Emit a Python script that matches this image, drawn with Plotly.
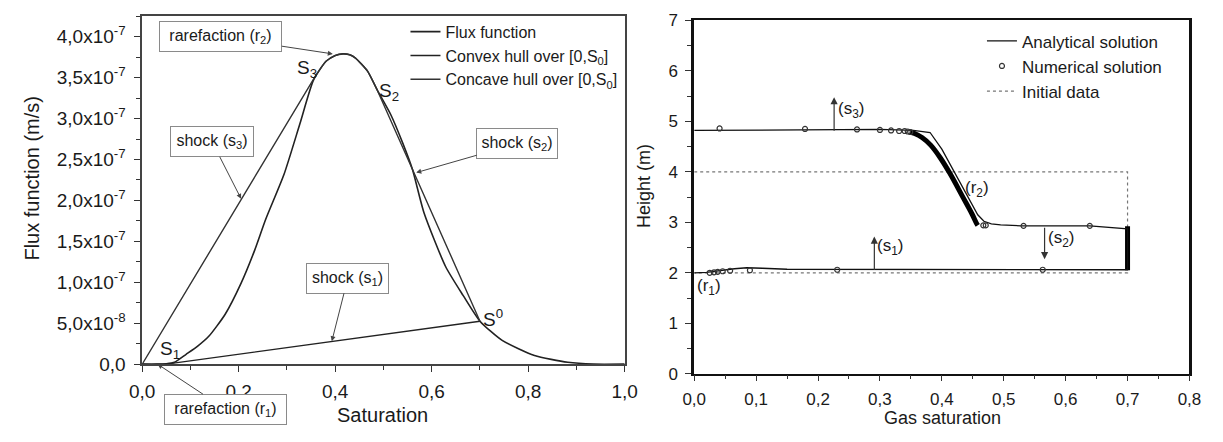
import plotly.graph_objects as go

# ---------------- Left panel data: flux function ----------------
flux_s = [0.0, 0.03, 0.05, 0.067, 0.091, 0.115, 0.138, 0.172, 0.205, 0.233, 0.256, 0.294, 0.327,
          0.355, 0.381, 0.400, 0.416, 0.430, 0.442, 0.467, 0.487, 0.515, 0.540, 0.560, 0.584,
          0.629, 0.665, 0.700, 0.746, 0.813, 0.882, 0.935, 1.0]
flux_f = [0.0, 0.0, 0.5e-9, 2.3e-9, 1.2e-8, 2.2e-8, 3.4e-8, 6.1e-8, 9.9e-8, 1.39e-7, 1.77e-7, 2.32e-7, 2.94e-7,
          3.47e-7, 3.70e-7, 3.77e-7, 3.79e-7, 3.78e-7, 3.74e-7, 3.58e-7, 3.35e-7, 3.05e-7, 2.70e-7, 2.38e-7, 1.85e-7,
          1.19e-7, 8.4e-8, 5.25e-8, 2.9e-8, 1.05e-8, 2.3e-9, 0.0, 0.0]

convex_s = [0.0, 0.05, 0.70]
convex_f = [0.0, 0.0, 5.25e-8]

concave_s = [0.0, 0.357, 0.381, 0.400, 0.416, 0.430, 0.442, 0.467, 0.487, 0.70]
concave_f = [0.0, 3.50e-7, 3.70e-7, 3.77e-7, 3.79e-7, 3.78e-7, 3.74e-7, 3.58e-7, 3.35e-7, 5.25e-8]

left_xticks = [0.0, 0.2, 0.4, 0.6, 0.8, 1.0]
left_xticktext = ["0,0", "0,2", "0,4", "0,6", "0,8", "1,0"]
left_yticks = [0.0, 5e-8, 1e-7, 1.5e-7, 2e-7, 2.5e-7, 3e-7, 3.5e-7, 4e-7]
left_yticktext = ["0,0", "5,0x10<sup>-8</sup>", "1,0x10<sup>-7</sup>", "1,5x10<sup>-7</sup>",
                  "2,0x10<sup>-7</sup>", "2,5x10<sup>-7</sup>", "3,0x10<sup>-7</sup>",
                  "3,5x10<sup>-7</sup>", "4,0x10<sup>-7</sup>"]

# ---------------- Right panel data: height profiles ----------------
ana_s = [0.0, 0.179, 0.30, 0.354, 0.381, 0.400, 0.421, 0.441, 0.458, 0.468, 0.480, 0.495, 0.528, 0.639, 0.70,
         0.70, 0.50, 0.233, 0.15, 0.11, 0.085, 0.065, 0.04, 0.02, 0.0]
ana_h = [4.82, 4.84, 4.84, 4.82, 4.78, 4.45, 3.97, 3.52, 3.15, 3.02, 2.97, 2.95, 2.93, 2.93, 2.87,
         2.06, 2.06, 2.06, 2.07, 2.09, 2.10, 2.08, 2.04, 2.01, 2.00]

num_s = [0.041, 0.179, 0.263, 0.300, 0.318, 0.331, 0.340, 0.345, 0.349,
         0.467, 0.471, 0.532, 0.639,
         0.563, 0.231, 0.090, 0.058, 0.046, 0.038, 0.032, 0.025]
num_h = [4.86, 4.85, 4.84, 4.83, 4.82, 4.81, 4.81, 4.80, 4.79,
         2.94, 2.94, 2.93, 2.93,
         2.06, 2.06, 2.05, 2.04, 2.03, 2.02, 2.01, 2.00]

# dense clusters of numerical points (rarefaction r2 and the state S0)
dense_r2_s = [0.349, 0.356, 0.368, 0.382, 0.398, 0.413, 0.434, 0.449, 0.456, 0.458]
dense_r2_h = [4.79, 4.76, 4.68, 4.53, 4.27, 3.97, 3.50, 3.16, 2.98, 2.94]
dense_s0_s = [0.70, 0.70]
dense_s0_h = [2.05, 2.92]

init_s = [0.0, 0.70, 0.70, 0.0]
init_h = [4.0, 4.0, 2.0, 2.0]

right_xticks = [0.0, 0.1, 0.2, 0.3, 0.4, 0.5, 0.6, 0.7, 0.8]
right_xticktext = ["0,0", "0,1", "0,2", "0,3", "0,4", "0,5", "0,6", "0,7", "0,8"]
right_yticks = [0, 1, 2, 3, 4, 5, 6, 7]
right_yticktext = ["0", "1", "2", "3", "4", "5", "6", "7"]

FONT = "Liberation Sans, Arial, Helvetica, sans-serif"
INK = "#1a1a1a"
W, H = 1223, 442


def px(xr):
    return xr / W


def py(yr):
    return 1 - yr / H


fig = go.Figure()

# left traces
fig.add_trace(go.Scatter(x=flux_s, y=flux_f, mode="lines", name="Flux function",
                         line=dict(color="#222", width=1.6, shape="spline", smoothing=0.6),
                         xaxis="x", yaxis="y", legend="legend"))
fig.add_trace(go.Scatter(x=convex_s, y=convex_f, mode="lines", name="Convex hull over [0,S<sub>0</sub>]",
                         line=dict(color="#222", width=1.4),
                         xaxis="x", yaxis="y", legend="legend"))
fig.add_trace(go.Scatter(x=concave_s, y=concave_f, mode="lines", name="Concave hull over [0,S<sub>0</sub>]",
                         line=dict(color="#333", width=1.4, shape="spline", smoothing=0.3),
                         xaxis="x", yaxis="y", legend="legend"))

# right traces
fig.add_trace(go.Scatter(x=init_s, y=init_h, mode="lines", name="Initial data",
                         line=dict(color="#777", width=1.2, dash="dot"),
                         xaxis="x2", yaxis="y2", legend="legend2", legendrank=3))
fig.add_trace(go.Scatter(x=dense_r2_s, y=dense_r2_h, mode="lines", showlegend=False,
                         line=dict(color="#000", width=5, shape="spline"),
                         xaxis="x2", yaxis="y2", hoverinfo="skip"))
fig.add_trace(go.Scatter(x=dense_s0_s, y=dense_s0_h, mode="lines", showlegend=False,
                         line=dict(color="#000", width=5),
                         xaxis="x2", yaxis="y2", hoverinfo="skip"))
fig.add_trace(go.Scatter(x=ana_s, y=ana_h, mode="lines", name="Analytical solution",
                         line=dict(color="#111", width=1.3),
                         xaxis="x2", yaxis="y2", legend="legend2", legendrank=1))
fig.add_trace(go.Scatter(x=num_s, y=num_h, mode="markers", name="Numerical solution",
                         marker=dict(symbol="circle-open", size=5, color="#333", line=dict(width=1.2)),
                         xaxis="x2", yaxis="y2", legend="legend2", legendrank=2))

axis_common = dict(showgrid=False, zeroline=False, showline=True, mirror=True, ticks="outside",
                   tickcolor="#333", color=INK)

fig.update_layout(
    width=W, height=H,
    margin=dict(l=0, r=0, t=0, b=0),
    paper_bgcolor="white", plot_bgcolor="white",
    font=dict(family=FONT, color=INK, size=16),
    xaxis=dict(domain=[px(132), px(625)], range=[0, 1], anchor="y",
               tickvals=left_xticks, ticktext=left_xticktext, ticklen=6, ticklabelstandoff=3,
               linecolor="#444", linewidth=1.5, tickfont=dict(family=FONT, size=19, color=INK),
               minor=dict(dtick=0.1, ticklen=4, ticks="outside", tickcolor="#333"),
               **axis_common),
    yaxis=dict(domain=[py(372), py(7)], range=[0, 4.257e-7], anchor="x",
               tickvals=left_yticks, ticktext=left_yticktext, ticklen=6, ticklabelstandoff=5,
               linecolor="#444", linewidth=1.5, tickfont=dict(family=FONT, size=19, color=INK),
               minor=dict(dtick=2.5e-8, ticklen=4, ticks="outside", tickcolor="#333"),
               **axis_common),
    xaxis2=dict(domain=[px(696), px(1202)], range=[0, 0.8], anchor="y2",
                tickvals=right_xticks, ticktext=right_xticktext, ticklen=6, ticklabelstandoff=3,
                linecolor="#111", linewidth=1.5, tickfont=dict(family=FONT, size=17, color=INK),
                minor=dict(dtick=0.05, ticklen=4, ticks="outside", tickcolor="#333"),
                **axis_common),
    yaxis2=dict(domain=[py(382), py(12)], range=[0, 7], anchor="x2",
                tickvals=right_yticks, ticktext=right_yticktext, ticklen=6, ticklabelstandoff=4,
                linecolor="#111", linewidth=2.5, tickfont=dict(family=FONT, size=17, color=INK),
                minor=dict(dtick=0.5, ticklen=4, ticks="outside", tickcolor="#333"),
                **axis_common),
    legend=dict(x=px(401), y=py(6), xanchor="left", yanchor="top", bgcolor="rgba(0,0,0,0)",
                font=dict(size=16), itemwidth=30, tracegroupgap=0),
    legend2=dict(x=px(990), y=py(15), xanchor="left", yanchor="top", bgcolor="rgba(0,0,0,0)",
                 font=dict(size=17), itemwidth=30, tracegroupgap=0),
)

ann = []
# axis titles
ttl = dict(xref="paper", yref="paper", showarrow=False, xanchor="center", yanchor="middle")
ann.append(dict(ttl, text="Flux function (m/s)", x=px(19), y=py(178), textangle=-90, font=dict(size=20)))
ann.append(dict(ttl, text="Saturation", x=px(378), y=py(425), font=dict(size=20)))
ann.append(dict(ttl, text="Height (m)", x=px(644), y=py(185), textangle=-90, font=dict(size=18)))
ann.append(dict(ttl, text="Gas saturation", x=px(950), y=py(428), font=dict(size=18)))

# point labels on left panel
for txt, sx, fy in [("S<sub>3</sub>", 0.341, 3.61e-7), ("S<sub>2</sub>", 0.511, 3.33e-7),
                    ("S<sup>0</sup>", 0.728, 5.7e-8), ("S<sub>1</sub>", 0.057, 1.7e-8)]:
    ann.append(dict(text=txt, x=sx, y=fy, xref="x", yref="y", showarrow=False, font=dict(size=19)))

# boxed callouts on left panel (tip in data coords, box offset in px)
box = dict(bordercolor="#8a8a8a", borderwidth=1, bgcolor="white", font=dict(size=16),
           arrowcolor="#444", arrowwidth=1, arrowhead=2, arrowsize=1, height=27, showarrow=True,
           xref="x", yref="y")
for txt, sx, fy, ax, ay, w in [
        ("rarefaction (r<sub>2</sub>)", 0.395, 3.79e-7, -112, -17, 119),
        ("shock (s<sub>3</sub>)", 0.205, 2.02e-7, -29, -57, 80),
        ("shock (s<sub>2</sub>)", 0.568, 2.34e-7, 101, -29, 78),
        ("shock (s<sub>1</sub>)", 0.393, 2.8e-8, 16, -63, 79),
        ("rarefaction (r<sub>1</sub>)", 0.032, 0.0, 68, 45, 119)]:
    d = dict(box)
    d.update(text=txt, x=sx, y=fy, ax=ax, ay=ay, width=w)
    ann.append(d)

# right panel arrows
for sx, h, ay in [(0.226, 5.48, 35), (0.291, 2.72, 35), (0.566, 2.27, -33)]:
    ann.append(dict(text="", x=sx, y=h, ax=0, ay=ay, xref="x2", yref="y2", showarrow=True,
                    arrowhead=2, arrowsize=1.2, arrowwidth=1.2, arrowcolor="#333"))
# right panel labels
for txt, sx, h in [("(s<sub>3</sub>)", 0.253, 5.22), ("(s<sub>1</sub>)", 0.316, 2.52),
                   ("(s<sub>2</sub>)", 0.593, 2.66), ("(r<sub>1</sub>)", 0.024, 1.72),
                   ("(r<sub>2</sub>)", 0.457, 3.67)]:
    ann.append(dict(text=txt, x=sx, y=h, xref="x2", yref="y2", showarrow=False, font=dict(size=17)))

fig.update_layout(annotations=ann)

fig.write_html("out.html")
